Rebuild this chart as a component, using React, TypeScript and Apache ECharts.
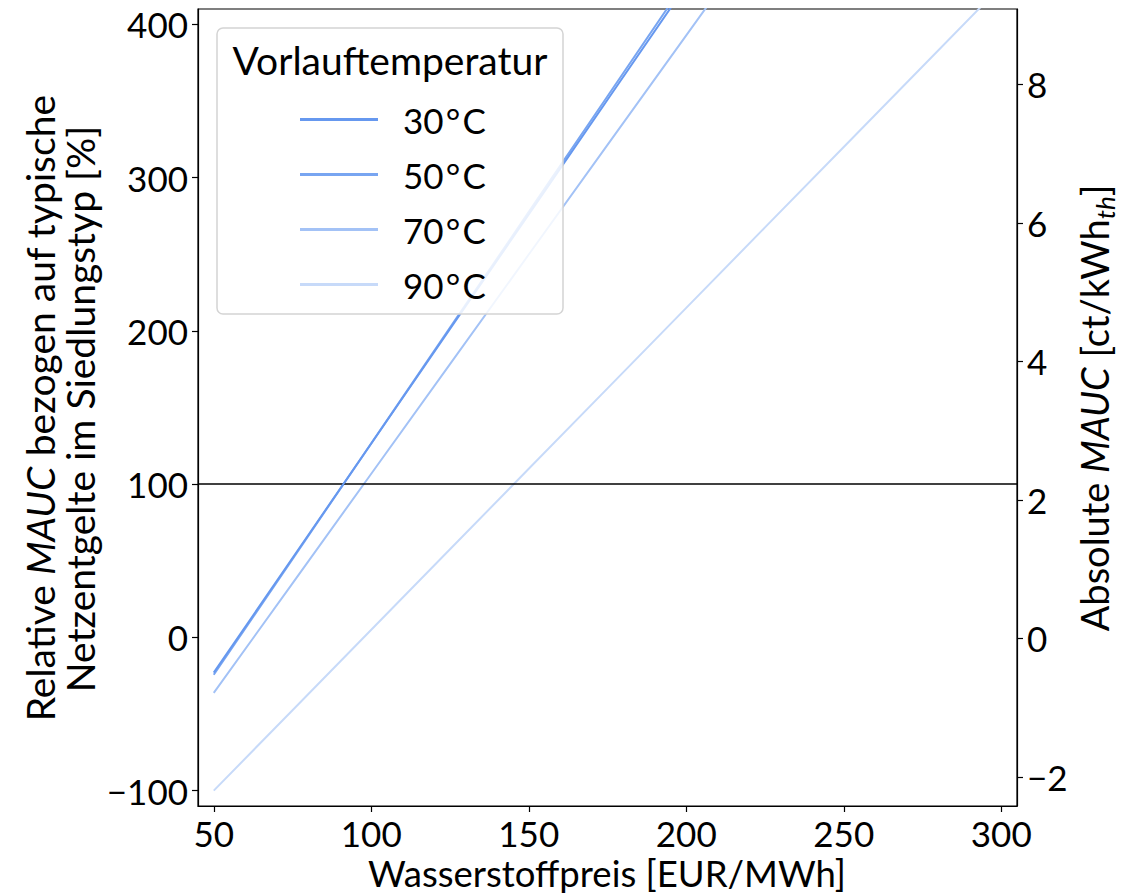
import React, { useEffect, useRef } from "react";
import * as echarts from "echarts";

// Wasserstoffpreis [EUR/MWh]
const xValues = [50, 75, 100, 125, 150, 175, 200, 225, 250, 275, 300];
// Relative MAUC [%] per Vorlauftemperatur
const s30 = [-23, 51.8, 126.5, 201.3, 276, 350.8, 425.5, 500, 575, 650, 725];
const s50 = [-24.4, 51.1, 126.6, 202.1, 277.6, 353.1, 428.6, 504, 579.6, 655, 730];
const s70 = [-36.2, 35.3, 106.8, 178.3, 249.8, 321.3, 392.8, 464.3, 535.8, 607, 679];
const s90 = [-100, -47.5, 5, 57.5, 110, 162.5, 215, 267.5, 320, 372.5, 425];
const seriesNames = ["30°C", "50°C", "70°C", "90°C"];
const seriesColors = ["#6698ef", "#78a5f1", "#a3c2f6", "#c7daf9"];
const xTicks = [50, 100, 150, 200, 250, 300];
const yLeftTicks = [-100, 0, 100, 200, 300, 400];
const yRightTicks = [-2, 0, 2, 4, 6, 8];
const referenceLine = 100;

const FONT = "Lato";
const FS = 35;
const TS = 38;

const fmt = (v: number) => (v < 0 ? "\u2212" + Math.abs(v) : String(v));

export default function App() {
  const ref = useRef<HTMLDivElement>(null);
  useEffect(() => {
    if (!ref.current) return;
    const chart = echarts.init(ref.current, null, { renderer: "svg" });
    const all = [s30, s50, s70, s90];
    const series: any[] = all.map((vals, i) => ({
      name: seriesNames[i],
      type: "line",
      xAxisIndex: 0,
      yAxisIndex: 0,
      data: xValues.map((x, j) => [x, vals[j]]),
      showSymbol: false,
      symbol: "none",
      clip: true,
      lineStyle: { color: seriesColors[i], width: 2 },
      itemStyle: { color: seriesColors[i] },
      z: 2 + (3 - i),
    }));
    series[3].markLine = {
      silent: true,
      symbol: ["none", "none"],
      label: { show: false },
      lineStyle: { color: "#000", width: 1.5, type: "solid" },
      data: [{ yAxis: referenceLine }],
    };
    const axisLine = { show: true, onZero: false, lineStyle: { color: "#000", width: 1.2 } };
    const axisTick = { show: true, length: 6, lineStyle: { color: "#000", width: 1.2 } };
    chart.setOption({
      animation: false,
      backgroundColor: "#fff",
      grid: { left: 198, right: 107, top: 9, bottom: 88, show: true, borderColor: "#000", borderWidth: 1.2, backgroundColor: "transparent" },
      xAxis: {
        type: "value",
        min: 45,
        max: 305,
        axisLine,
        splitLine: { show: false },
        axisTick: { ...axisTick, customValues: xTicks },
        axisLabel: { customValues: xTicks, margin: 11, color: "#000", fontFamily: FONT, fontSize: FS, lineHeight: 32, formatter: fmt },
      },
      yAxis: [
        {
          type: "value",
          position: "left",
          min: -110,
          max: 410,
          axisLine,
          splitLine: { show: false },
          axisTick: { ...axisTick, customValues: yLeftTicks },
          axisLabel: { customValues: yLeftTicks, margin: 10, color: "#000", fontFamily: FONT, fontSize: FS, formatter: fmt },
        },
        {
          type: "value",
          position: "right",
          min: -2.42,
          max: 9.09,
          axisLine,
          splitLine: { show: false },
          axisTick: { ...axisTick, customValues: yRightTicks },
          axisLabel: { customValues: yRightTicks, margin: 10, color: "#000", fontFamily: FONT, fontSize: FS, formatter: fmt },
        },
      ],
      legend: {
        orient: "vertical",
        left: 295,
        top: 95,
        z: 12,
        itemWidth: 78,
        itemHeight: 3,
        itemGap: 16,
        icon: "rect",
        data: seriesNames,
        formatter: (n: string) => n.replace("°", "\u200a°\u200a"),
        textStyle: { fontFamily: FONT, fontSize: 35, color: "#000", padding: [0, 0, 0, 20], lineHeight: 39 },
      },
      graphic: [
        {
          type: "rect",
          z: 10,
          shape: { x: 217, y: 28, width: 346, height: 286, r: 6 },
          style: { fill: "rgba(255,255,255,0.85)", stroke: "#d4d4d4", lineWidth: 1.5 },
        },
        {
          type: "text",
          z: 11,
          x: 390,
          y: 60,
          style: { text: "Vorlauftemperatur", font: `39px ${FONT}`, fill: "#000", align: "center", verticalAlign: "middle" },
        },
        {
          type: "text",
          x: 40,
          y: 408,
          rotation: Math.PI / 2,
          style: {
            text: "{a|Relative }{i|MAUC}{a| bezogen auf typische}",
            align: "center",
            verticalAlign: "middle",
            fill: "#000",
            rich: {
              a: { fontFamily: FONT, fontSize: 39, fill: "#000" },
              i: { fontFamily: FONT, fontSize: 39, fontStyle: "italic", fill: "#000" },
            },
          },
        },
        {
          type: "text",
          x: 80,
          y: 409,
          rotation: Math.PI / 2,
          style: { text: "Netzentgelte im Siedlungstyp [%]", font: `39px ${FONT}`, fill: "#000", align: "center", verticalAlign: "middle" },
        },
        {
          type: "text",
          x: 1094,
          y: 408,
          rotation: Math.PI / 2,
          style: {
            text: "{a|Absolute }{i|MAUC}{a| [ct/kWh}{s|th}{a|]}",
            align: "center",
            verticalAlign: "middle",
            fill: "#000",
            rich: {
              a: { fontFamily: FONT, fontSize: TS, fill: "#000", lineHeight: 48 },
              i: { fontFamily: FONT, fontSize: TS, fontStyle: "italic", fill: "#000", lineHeight: 48 },
              s: { fontFamily: FONT, fontSize: 26, fontStyle: "italic", fill: "#000", lineHeight: 48, verticalAlign: "bottom" },
            },
          },
        },
        {
          type: "text",
          x: 607,
          y: 873,
          style: { text: "Wasserstoffpreis [EUR/MWh]", font: `36.5px ${FONT}`, fill: "#000", align: "center", verticalAlign: "middle" },
        },
      ],
      series,
    });
    return () => chart.dispose();
  }, []);
  return <div ref={ref} style={{ position: "absolute", left: 0, top: 0, width: 1124, height: 894 }} />;
}
